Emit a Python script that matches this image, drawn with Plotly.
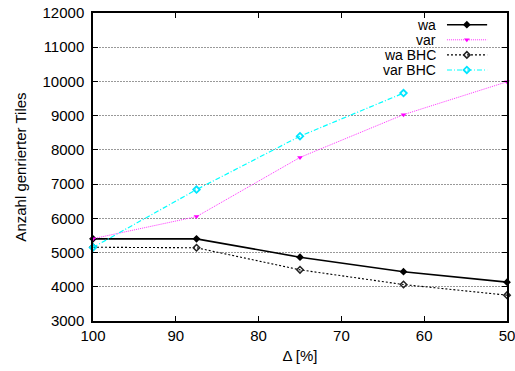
import plotly.graph_objects as go

# Reduction levels (x axis, reversed) and generated tile counts per method
delta = [100, 87.5, 75, 62.5, 50]
wa = [5400, 5400, 4865, 4440, 4135]
var = [5405, 6050, 7780, 9030, 9990]
wa_bhc = [5155, 5140, 4495, 4065, 3755]
delta_var_bhc = [100, 87.5, 75, 62.5]
var_bhc = [5150, 6840, 8400, 9660]

series_names = ["wa", "var", "wa BHC", "var BHC"]
y_ticks = [3000, 4000, 5000, 6000, 7000, 8000, 9000, 10000, 11000, 12000]
y_tick_labels = [str(v) for v in y_ticks]
x_ticks = [100, 90, 80, 70, 60, 50]

FONT = "Liberation Sans, Arial, Helvetica, sans-serif"

styles = [
    dict(line=dict(color="black", width=1.6, dash="solid"),
         marker=dict(symbol="diamond", size=6, color="black")),
    dict(line=dict(color="#ff33ff", width=1, dash="1px,1px"),
         marker=dict(symbol="triangle-down", size=5, color="#ff00ff")),
    dict(line=dict(color="black", width=1.1, dash="2px,2px"),
         marker=dict(symbol="diamond-open", size=5, color="#222",
                     line=dict(width=1.5, color="#222"))),
    dict(line=dict(color="#00ffff", width=1.2, dash="5px,2px,1px,2px"),
         marker=dict(symbol="diamond-open", size=5, color="#00e5ff",
                     line=dict(width=1.8, color="#00e5ff"))),
]

fig = go.Figure()
data = [(delta, wa), (delta, var), (delta, wa_bhc), (delta_var_bhc, var_bhc)]
for (xs, ys), st, name in zip(data, styles, series_names):
    fig.add_trace(go.Scatter(x=xs, y=ys, mode="lines+markers", name=name,
                             showlegend=False, cliponaxis=False, **st))

# Key in the upper right corner: label, then a line sample with its marker
row_y = [0.962, 0.913, 0.864, 0.815]
for name, st, ry in zip(series_names, styles, row_y):
    fig.add_trace(go.Scatter(x=[0.855, 0.952], y=[ry, ry], mode="lines",
                             xaxis="x2", yaxis="y2", showlegend=False,
                             hoverinfo="skip", line=st["line"]))
    fig.add_trace(go.Scatter(x=[0.903], y=[ry], mode="markers",
                             xaxis="x2", yaxis="y2", showlegend=False,
                             hoverinfo="skip", marker=st["marker"]))
    fig.add_annotation(x=0.834, y=ry, xref="paper", yref="paper",
                       text=name, showarrow=False, xanchor="right",
                       yanchor="middle", font=dict(size=14, color="black", family=FONT))

# Key background hides the grid behind it
fig.add_shape(type="rect", xref="paper", yref="paper", x0=0.68, x1=0.97,
              y0=0.80, y1=0.99, fillcolor="white", line=dict(width=0),
              layer="between")

fig.update_layout(
    width=515, height=371,
    margin=dict(l=93, r=8, t=13, b=50),
    paper_bgcolor="white", plot_bgcolor="white",
    font=dict(family=FONT, size=15, color="black"),
    xaxis=dict(range=[100, 50], tickvals=x_ticks, ticks="inside", ticklen=5,
               tickcolor="black", showline=True, linecolor="black", linewidth=1.5,
               mirror="ticks", showgrid=False, zeroline=False, automargin=False,
               ticklabeloverflow="allow",
               tickfont=dict(size=15),
               title=dict(text="Δ [%]", font=dict(size=15), standoff=8)),
    yaxis=dict(range=[3000, 12000], tickvals=y_ticks, ticktext=y_tick_labels,
               ticks="inside", ticklen=5, automargin=False,
               ticklabeloverflow="allow",
               tickcolor="black", showline=True, linecolor="black", linewidth=1.5,
               mirror="ticks", showgrid=True, gridcolor="#999999", griddash="2px,1px",
               gridwidth=1, zeroline=False, ticklabelstandoff=4,
               tickfont=dict(size=15),
               title=dict(text="Anzahl genrierter Tiles", font=dict(size=15), standoff=12)),
    xaxis2=dict(range=[0, 1], overlaying="x", visible=False, fixedrange=True),
    yaxis2=dict(range=[0, 1], overlaying="y", visible=False, fixedrange=True),
)

fig.write_html("out.html")
